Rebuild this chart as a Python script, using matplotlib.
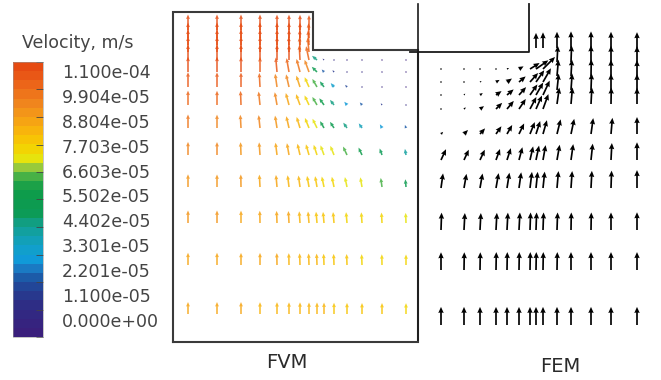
import numpy as np
import matplotlib
matplotlib.use("Agg")
import matplotlib.pyplot as plt
from matplotlib.colors import LinearSegmentedColormap, Normalize
from matplotlib.cm import ScalarMappable

W, H = 661, 380

# colour scale, m/s
speed_max = 1.10045e-4
cbar_title = "Velocity, m/s"
cbar_labels = ["0.000e+00", "1.100e-05", "2.201e-05", "3.301e-05", "4.402e-05",
               "5.502e-05", "6.603e-05", "7.703e-05", "8.804e-05", "9.904e-05",
               "1.100e-04"]

# ---- FVM: node x (model units from left wall), rows from top to bottom ----
# speeds in 1e-5 m/s, angles in deg from vertical (+ = leaning towards the inlet)
fvm_x = [1.5, 4.4, 6.8, 8.7, 10.4, 11.6, 12.7, 13.6, 14.4, 15.1, 16.1, 17.4, 18.9, 20.9, 23.3]
fvm_row_y = [31.2, 30.4, 29.7, 29.0, 28.2, 27.0, 25.5, 23.7, 21.4, 18.7, 15.5, 11.9, 7.7, 2.8]
fvm_speed = [
    [11.0, 11.0, 11.0, 11.0, 10.9, 10.9, 10.8, 10.6],
    [10.9, 11.0, 11.0, 11.0, 10.9, 10.9, 10.8, 10.5],
    [10.9, 10.9, 11.0, 10.9, 10.9, 10.8, 10.7, 10.4],
    [10.9, 10.9, 10.9, 10.9, 10.8, 10.8, 10.6, 10.2],
    [10.9, 10.9, 10.9, 10.9, 10.8, 10.7, 10.5, 10.0, 4.6, 1.4, 1.1, 0.7, 0.5, 0.3, 0.2],
    [10.8, 10.8, 10.7, 10.6, 10.3, 10.0, 9.6, 9.2, 5.2, 2.4, 1.7, 1.0, 0.8, 0.4, 0.3],
    [10.5, 10.4, 10.3, 10.0, 9.5, 9.2, 8.5, 7.6, 6.6, 5.0, 3.6, 2.0, 1.0, 0.5, 0.3],
    [10.2, 10.1, 10.0, 9.6, 9.2, 8.8, 8.2, 7.5, 6.6, 5.8, 4.6, 3.0, 2.4, 1.5, 1.0],
    [9.6, 9.5, 9.4, 9.2, 8.9, 8.6, 8.2, 7.7, 7.3, 5.6, 5.2, 4.6, 4.0, 3.0, 2.3],
    [9.3, 9.2, 9.1, 9.0, 8.8, 8.5, 8.2, 7.9, 7.6, 7.3, 7.0, 6.6, 5.8, 4.9, 4.4],
    [9.0, 8.9, 8.9, 8.8, 8.6, 8.4, 8.2, 8.0, 7.8, 7.6, 7.4, 7.2, 7.0, 6.5, 5.5],
    [8.9, 8.9, 8.8, 8.7, 8.6, 8.5, 8.3, 8.2, 8.0, 7.9, 7.8, 7.7, 7.6, 7.4, 7.2],
    [8.7, 8.7, 8.6, 8.6, 8.5, 8.4, 8.3, 8.2, 8.1, 8.0, 7.9, 7.8, 7.7, 7.6, 7.5],
    [8.5, 8.5, 8.5, 8.4, 8.4, 8.3, 8.3, 8.2, 8.2, 8.1, 8.0, 7.9, 7.8, 7.8, 7.7],
]
fvm_angle = [
    [0, 0, 0, 0, 0, 0, 0, 0],
    [0, 0, 0, 0, 0, 0, 0, 2],
    [0, 0, 0, 0, 0, 0, 1, 4],
    [0, 0, 0, 0, 0, 1, 2, 6],
    [0, 0, 0, 0, 0, 0, 3, 12, 50, 45, 40, 35, 30, 20, 10],
    [0, 0, 0, 0, 5, 10, 15, 20, 45, 42, 40, 38, 35, 25, 15],
    [0, 0, 0, 3, 8, 13, 18, 24, 30, 36, 40, 42, 40, 30, 20],
    [0, 0, 2, 6, 10, 15, 20, 25, 30, 35, 38, 40, 40, 35, 25],
    [0, 0, 3, 6, 9, 13, 17, 22, 26, 30, 33, 35, 35, 30, 20],
    [0, 0, 2, 4, 7, 10, 13, 16, 18, 20, 22, 25, 25, 20, 10],
    [0, 0, 1, 3, 5, 7, 8, 10, 10, 12, 12, 12, 10, 8, 5],
    [0, 0, 0, 1, 2, 3, 4, 5, 5, 5, 5, 5, 4, 3, 2],
    [0, 0, 0, 0, 1, 1, 2, 2, 2, 2, 2, 2, 2, 1, 0],
    [0, 0, 0, 0, 0, 0, 0, 0, 0, 0, 0, 0, 0, 0, 0],
]

# ---- FEM: mirrored geometry, inlet on the right ----
fem_x = [2.3, 4.6, 6.2, 7.8, 8.9, 10.1, 11.2, 11.8, 12.5, 13.9, 15.3, 17.3, 19.3, 21.9]
fem_row_y = [29.2, 27.8, 26.4, 25.0, 23.6, 27.1, 25.8, 24.5, 23.1,
             20.6, 18.0, 15.2, 11.0, 7.0, 1.5]
fem_row_first_col = [7, 9, 9, 9, 9, 0, 0, 0, 0, 0, 0, 0, 0, 0, 0]
fem_speed = [
    [8.0, 8.3, 8.6, 8.8, 8.8, 8.6, 8.4],
    [8.6, 8.8, 8.8, 8.6, 8.4],
    [8.7, 8.8, 8.8, 8.6, 8.4],
    [8.7, 8.8, 8.8, 8.6, 8.5],
    [8.8, 8.8, 8.8, 8.7, 8.6],
    [0.4, 0.6, 0.7, 0.9, 1.2, 2.8, 6.0, 8.0, 9.0],
    [0.5, 0.7, 1.0, 2.2, 3.2, 4.6, 6.4, 7.6, 8.4],
    [0.5, 1.0, 1.8, 3.6, 4.6, 5.6, 6.8, 7.6, 8.4],
    [0.6, 1.3, 2.6, 4.6, 5.6, 6.4, 7.2, 7.8, 8.4],
    [1.6, 3.0, 4.0, 5.0, 5.5, 6.2, 6.8, 7.2, 7.6, 8.0, 8.2, 8.5, 8.6, 9.0],
    [6.3, 6.0, 6.0, 6.2, 6.6, 7.0, 7.4, 7.8, 8.0, 8.2, 8.5, 8.7, 9.0, 9.4],
    [7.8, 7.6, 7.8, 8.0, 8.2, 8.4, 8.6, 8.6, 8.7, 9.0, 9.0, 9.1, 9.2, 9.5],
    [9.2, 9.0, 9.0, 9.1, 9.2, 9.3, 9.3, 9.3, 9.3, 9.3, 9.3, 9.3, 9.3, 9.4],
    [9.4, 9.4, 9.4, 9.5, 9.5, 9.5, 9.5, 9.5, 9.5, 9.5, 9.5, 9.5, 9.5, 9.5],
    [9.6, 9.6, 9.6, 9.6, 9.6, 9.6, 9.6, 9.6, 9.6, 9.6, 9.6, 9.6, 9.6, 9.6],
]
fem_angle = [
    [0, 0, 0, 0, 0, 0, 0],
    [3, 2, 0, 0, 0],
    [5, 3, 1, 0, 0],
    [6, 4, 2, 0, 0],
    [8, 5, 3, 1, 0],
    [0, 85, 85, 70, 65, 60, 58, 55, 45],
    [0, 30, 60, 60, 55, 50, 42, 35, 30],
    [0, 40, 55, 55, 50, 42, 35, 30, 25],
    [0, 50, 55, 45, 40, 34, 28, 24, 20],
    [45, 45, 42, 35, 30, 26, 22, 18, 16, 14, 12, 8, 5, 0],
    [25, 25, 25, 20, 18, 15, 13, 12, 10, 10, 8, 6, 3, 0],
    [8, 10, 10, 10, 9, 8, 7, 6, 6, 5, 4, 3, 2, 0],
    [2, 3, 3, 3, 3, 3, 2, 2, 2, 2, 1, 1, 0, 0],
    [0, 1, 1, 1, 1, 1, 1, 1, 1, 1, 0, 0, 0, 0],
    [0, 0, 0, 0, 0, 0, 0, 0, 0, 0, 0, 0, 0, 0],
]

# domain outlines (model units)
fvm_width, fvm_height, fvm_step_x, fvm_step_y = 24.5, 33.0, 14.0, 29.2
fem_step_x, fem_step_y, fem_top = 11.1, 28.8, 33.6

cmap = LinearSegmentedColormap.from_list("pv", [
    (0.00, "#3a1f7c"), (0.10, "#2f2c84"), (0.16, "#243f93"), (0.20, "#1c55a3"),
    (0.24, "#1a79c2"), (0.28, "#0f9edb"), (0.33, "#12a0c2"), (0.37, "#12a0a6"),
    (0.41, "#119e86"), (0.45, "#0c9b55"), (0.54, "#0f9c48"), (0.58, "#3aad48"),
    (0.62, "#95c93c"), (0.655, "#e6e30d"), (0.70, "#f6d000"), (0.75, "#f8b80a"),
    (0.80, "#f6a114"), (0.85, "#f18b1d"), (0.90, "#ee731b"), (0.95, "#ea5c18"),
    (1.00, "#e64b12")], N=30)
norm = Normalize(0, speed_max * 1e5)


def flatten(xs, rows_y, first_col, speeds, angles, sign):
    X, Y, U, V, S = [], [], [], [], []
    for y, c0, sp, an in zip(rows_y, first_col, speeds, angles):
        for k, (s, a) in enumerate(zip(sp, an)):
            X.append(xs[c0 + k]); Y.append(y)
            U.append(sign * s * np.sin(np.radians(a)))
            V.append(s * np.cos(np.radians(a)))
            S.append(s)
    return map(np.array, (X, Y, U, V, S))


fig = plt.figure(figsize=(W / 100, H / 100), dpi=100)


def px_axes(x0, y0, x1, y1):
    ax = fig.add_axes([x0 / W, 1 - y1 / H, (x1 - x0) / W, (y1 - y0) / H])
    ax.set_axis_off()
    return ax


# FVM panel
ax1 = px_axes(173, 12, 418, 342)
ax1.set_xlim(0, fvm_width); ax1.set_ylim(0, fvm_height)
X, Y, U, V, S = flatten(fvm_x, fvm_row_y, [0] * len(fvm_row_y), fvm_speed, fvm_angle, -1)
ax1.quiver(X, Y, U, V, S, cmap=cmap, norm=norm, pivot="tail", angles="xy",
           scale_units="xy", scale=7.1, units="dots", width=1.6, headwidth=2.4,
           headlength=2.8, headaxislength=2.6, alpha=0.85, clip_on=False)
ax1.plot([0, 0, fvm_step_x, fvm_step_x, fvm_width, fvm_width, 0],
         [0, fvm_height, fvm_height, fvm_step_y, fvm_step_y, 0, 0],
         color="#3a3a3a", lw=1.5, clip_on=False, solid_joinstyle="miter")

# FEM panel
ax2 = px_axes(418, 0, 661, 340)
ax2.set_xlim(0, 24.3); ax2.set_ylim(0, 34.0)
X, Y, U, V, S = flatten(fem_x, fem_row_y, fem_row_first_col, fem_speed, fem_angle, 1)
ax2.quiver(X, Y, U, V, color="black", pivot="tail", angles="xy",
           scale_units="xy", scale=5.3, units="dots", width=1.7, headwidth=3.2,
           headlength=3.6, headaxislength=3.3, clip_on=False)
ax2.plot([0, 0], [0, fem_top], color="#1a1a1a", lw=1.2, clip_on=False)
ax2.plot([-0.8, fem_step_x, fem_step_x], [fem_step_y, fem_step_y, fem_top],
         color="#1a1a1a", lw=1.3, clip_on=False)

# colour bar
cax = fig.add_axes([13 / W, 1 - 337 / H, 30 / W, 275 / H])
cb = fig.colorbar(ScalarMappable(norm=norm, cmap=cmap), cax=cax,
                  ticks=np.linspace(0, speed_max * 1e5, len(cbar_labels)))
cb.outline.set_linewidth(0.4)
cb.outline.set_edgecolor("#999999")
cax.tick_params(direction="in", length=5, width=0.6, color="#444444",
                labelright=False, right=True)
label_top, label_bot = 73, 322
for i, lab in enumerate(cbar_labels):
    py = label_bot - i * (label_bot - label_top) / (len(cbar_labels) - 1)
    fig.text(62 / W, 1 - py / H, lab, fontsize=12.5, color="#444444",
             ha="left", va="center")
fig.text(22 / W, 1 - 43 / H, cbar_title, fontsize=12.5, color="#444444",
         ha="left", va="center")

fig.text(287 / W, 1 - 363 / H, "FVM", fontsize=14, color="#2a2a2a", ha="center", va="center")
fig.text(560 / W, 1 - 367 / H, "FEM", fontsize=14, color="#2a2a2a", ha="center", va="center")

fig.savefig("out.png", dpi=100)
